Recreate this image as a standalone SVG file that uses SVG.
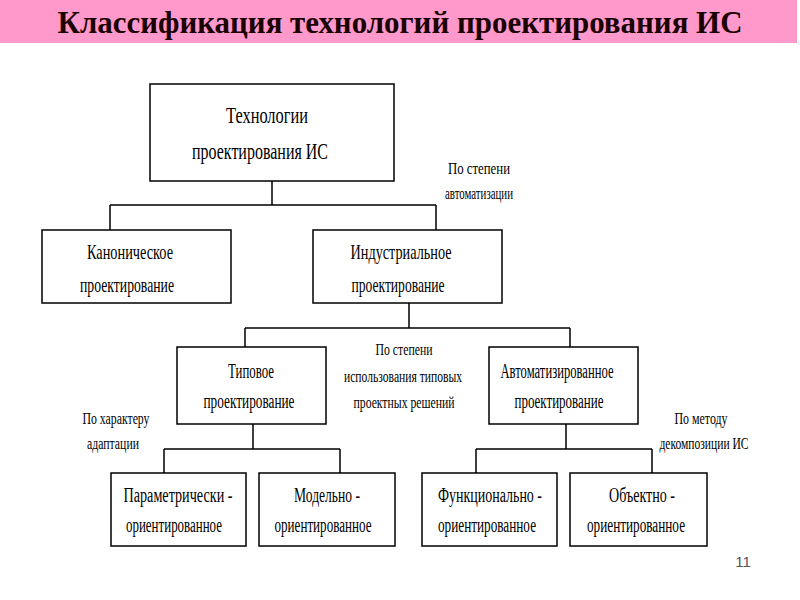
<svg xmlns="http://www.w3.org/2000/svg" width="800" height="600" viewBox="0 0 800 600">
<style>
.box{fill:#fff;stroke:#000;stroke-width:1.5}
.ln{fill:none;stroke:#000;stroke-width:1.5}
.t{font-family:"Liberation Serif","DejaVu Serif",serif;fill:#000;text-anchor:middle}
.t1{font-size:24px}
.t2{font-size:22px}
.t3{font-size:20px}
.lb{font-size:16px}
.title{font-family:"Liberation Serif","DejaVu Serif",serif;font-weight:bold;font-size:32px;fill:#1a0000;text-anchor:middle}
.num{font-family:"Liberation Sans",Arial,sans-serif;font-size:15px;fill:#555;text-anchor:middle}
</style>
<rect x="0" y="0" width="800" height="600" fill="#fff"/>
<rect x="0" y="0" width="797" height="43" fill="#ff99cc"/>
<text class="title" x="400" y="33" textLength="685" lengthAdjust="spacingAndGlyphs">Классификация технологий проектирования ИС</text>

<g id="connectors">
<path class="ln" d="M272,181 V205 M110,205 H436 M110,205 V230 M436,205 V230"/>
<path class="ln" d="M409,303 V328 M245,328 H570 M245,328 V347 M570,328 V347"/>
<path class="ln" d="M253,424 V449 M164,449 H340 M164,449 V473 M340,449 V473"/>
<path class="ln" d="M566,424 V449 M476,449 H652 M476,449 V473 M652,449 V473"/>
</g>

<g id="root">
<rect class="box" x="150" y="84" width="244" height="97"/>
<text class="t t1" x="267" y="123" textLength="82" lengthAdjust="spacingAndGlyphs">Технологии</text>
<text class="t t1" x="260" y="159" textLength="136" lengthAdjust="spacingAndGlyphs">проектирования ИС</text>
</g>

<g id="canonical">
<rect class="box" x="42" y="230" width="189" height="73"/>
<text class="t t2" x="130" y="259" textLength="86" lengthAdjust="spacingAndGlyphs">Каноническое</text>
<text class="t t2" x="127" y="292" textLength="94" lengthAdjust="spacingAndGlyphs">проектирование</text>
</g>

<g id="industrial">
<rect class="box" x="313" y="230" width="189" height="73"/>
<text class="t t2" x="401" y="259" textLength="101" lengthAdjust="spacingAndGlyphs">Индустриальное</text>
<text class="t t2" x="398" y="292" textLength="93" lengthAdjust="spacingAndGlyphs">проектирование</text>
</g>

<g id="typical">
<rect class="box" x="177" y="347" width="149" height="77"/>
<text class="t t3" x="251" y="378" textLength="46" lengthAdjust="spacingAndGlyphs">Типовое</text>
<text class="t t3" x="249" y="408" textLength="91" lengthAdjust="spacingAndGlyphs">проектирование</text>
</g>

<g id="automated">
<rect class="box" x="489" y="347" width="149" height="77"/>
<text class="t t3" x="557" y="378" textLength="113" lengthAdjust="spacingAndGlyphs">Автоматизированное</text>
<text class="t t3" x="559" y="408" textLength="89" lengthAdjust="spacingAndGlyphs">проектирование</text>
</g>

<g id="parametric">
<rect class="box" x="111" y="473" width="135" height="73"/>
<text class="t t3" x="178" y="502" textLength="109" lengthAdjust="spacingAndGlyphs">Параметрически  -</text>
<text class="t t3" x="174" y="532" textLength="96" lengthAdjust="spacingAndGlyphs">ориентированное</text>
</g>

<g id="model">
<rect class="box" x="259" y="473" width="136" height="73"/>
<text class="t t3" x="327" y="502" textLength="66" lengthAdjust="spacingAndGlyphs">Модельно -</text>
<text class="t t3" x="323" y="532" textLength="97" lengthAdjust="spacingAndGlyphs">ориентированное</text>
</g>

<g id="functional">
<rect class="box" x="422" y="473" width="135" height="73"/>
<text class="t t3" x="490" y="502" textLength="104" lengthAdjust="spacingAndGlyphs">Функционально  -</text>
<text class="t t3" x="487" y="532" textLength="98" lengthAdjust="spacingAndGlyphs">ориентированное</text>
</g>

<g id="object">
<rect class="box" x="570" y="473" width="137" height="73"/>
<text class="t t3" x="642" y="502" textLength="66" lengthAdjust="spacingAndGlyphs">Объектно  -</text>
<text class="t t3" x="636" y="532" textLength="98" lengthAdjust="spacingAndGlyphs">ориентированное</text>
</g>

<g id="labels">
<text class="t lb" x="479" y="174" textLength="62" lengthAdjust="spacingAndGlyphs">По степени</text>
<text class="t lb" x="479" y="199" textLength="68" lengthAdjust="spacingAndGlyphs">автоматизации</text>
<text class="t lb" x="404" y="355" textLength="57" lengthAdjust="spacingAndGlyphs">По степени</text>
<text class="t lb" x="403" y="382" textLength="118" lengthAdjust="spacingAndGlyphs">использования типовых</text>
<text class="t lb" x="404" y="408" textLength="101" lengthAdjust="spacingAndGlyphs">проектных решений</text>
<text class="t lb" x="116" y="424" textLength="67" lengthAdjust="spacingAndGlyphs">По характеру</text>
<text class="t lb" x="113" y="449" textLength="52" lengthAdjust="spacingAndGlyphs">адаптации</text>
<text class="t lb" x="701" y="424" textLength="53" lengthAdjust="spacingAndGlyphs">По методу</text>
<text class="t lb" x="704" y="449" textLength="89" lengthAdjust="spacingAndGlyphs">декомпозиции ИС</text>
</g>

<text class="num" x="743" y="567">11</text>
</svg>
